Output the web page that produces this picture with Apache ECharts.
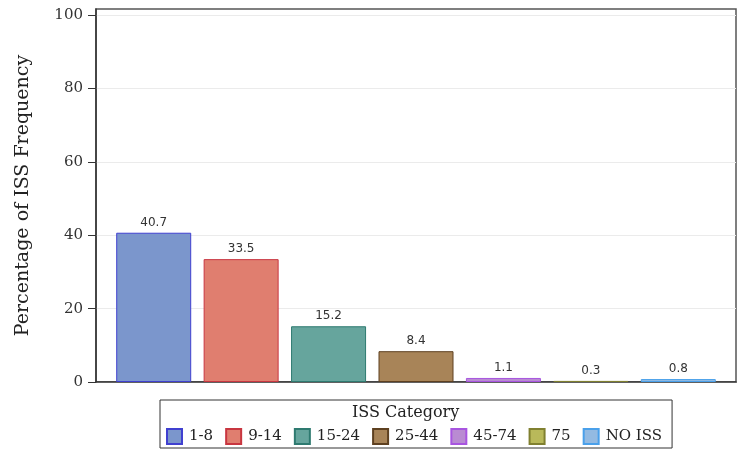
<!DOCTYPE html>
<html>
<head>
<meta charset="utf-8">
<script src="https://cdn.jsdelivr.net/npm/echarts@6/dist/echarts.min.js"></script>
<style>
  html, body { margin: 0; padding: 0; background: #fff; }
  #chart { width: 744px; height: 450px; }
</style>
</head>
<body>
<div id="chart"></div>
<script>
const categories = ['1-8', '9-14', '15-24', '25-44', '45-74', '75', 'NO ISS'];
const percents = [40.7, 33.5, 15.2, 8.4, 1.1, 0.3, 0.8];
const yTicks = [0, 20, 40, 60, 80, 100];

const fills = ['#7b96cc', '#e07e6f', '#66a59d', '#a88458', '#b98bd2', '#b9b95a', '#93bae2'];
const borders = ['#4040d0', '#c83640', '#2e7a70', '#5e4020', '#a855e0', '#808030', '#4aa0ea'];

const serif = '"DejaVu Serif", serif';

const chart = echarts.init(document.getElementById('chart'));

const series = categories.map(function (c, i) {
    return {
        name: c,
        type: 'bar',
        barWidth: 75,
        barGap: '-100%',
        data: [[i, percents[i]]],
        itemStyle: {
            color: fills[i],
            borderColor: borders[i],
            borderWidth: 1
        },
        label: {
            show: true,
            position: 'top',
            distance: 4,
            color: '#333',
            fontFamily: '"DejaVu Sans", sans-serif',
            fontSize: 12,
            formatter: function (p) { return p.value[1]; }
        }
    };
});

chart.setOption({
    animation: false,
    title: {
        text: 'ISS Category',
        left: 352,
        top: 405,
        padding: 0,
        textStyle: { fontFamily: serif, fontWeight: 'normal', fontSize: 16, color: '#222' }
    },
    legend: {
        left: 160,
        top: 400,
        itemWidth: 15,
        itemHeight: 15,
        itemGap: 12,
        icon: 'rect',
        borderColor: '#333',
        borderWidth: 1,
        padding: [28, 10, 3, 6],
        textStyle: { fontFamily: serif, fontSize: 15, color: '#222', padding: [0, 0, 0, 2] },
        data: categories
    },
    grid: {
        left: 96,
        right: 8,
        top: 9,
        bottom: 68,
        show: true,
        borderColor: '#555',
        borderWidth: 1.5
    },
    xAxis: {
        type: 'value',
        min: -0.66,
        max: 6.66,
        axisLine: { show: true, onZero: false, lineStyle: { color: '#333', width: 1.5 } },
        axisTick: { show: false },
        axisLabel: { show: false },
        splitLine: { show: false }
    },
    yAxis: {
        type: 'value',
        min: 0,
        max: 101.7,
        interval: 20,
        name: 'Percentage of ISS Frequency',
        nameLocation: 'middle',
        nameRotate: 90,
        nameGap: 63,
        nameTextStyle: { fontFamily: serif, fontSize: 19, color: '#222' },
        axisLine: { show: true, onZero: false, lineStyle: { color: '#333', width: 1.5 } },
        axisTick: { show: true, length: 8, customValues: yTicks, lineStyle: { color: '#333' } },
        axisLabel: {
            customValues: yTicks,
            margin: 13,
            fontFamily: serif,
            fontSize: 15,
            color: '#333'
        },
        splitLine: { show: true, lineStyle: { color: '#ebebeb' } }
    },
    series: series
});
</script>
</body>
</html>
